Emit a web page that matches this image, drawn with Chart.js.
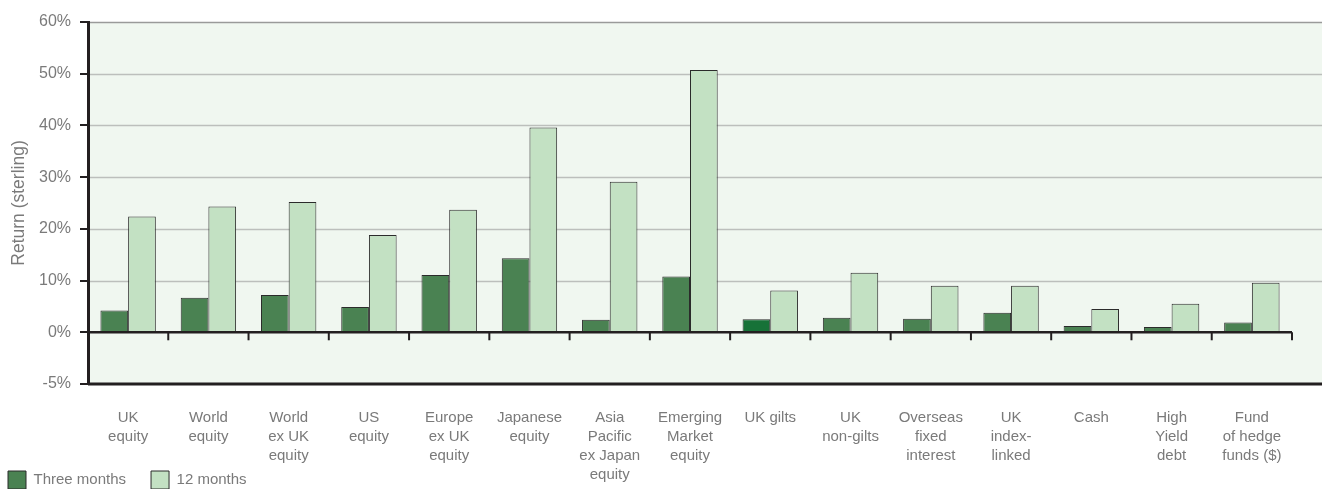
<!DOCTYPE html>
<html>
<head>
<meta charset="utf-8">
<script src="https://cdn.jsdelivr.net/npm/chart.js@4/dist/chart.umd.min.js"></script>
<style>
  html, body { margin: 0; padding: 0; background: #ffffff; }
  #wrap { width: 1322px; height: 489px; position: relative; }
</style>
</head>
<body>
<div id="wrap"><canvas id="c" width="1322" height="489"></canvas></div>
<script>
// ---- data ----
const categories = [
  ["UK", "equity"],
  ["World", "equity"],
  ["World", "ex UK", "equity"],
  ["US", "equity"],
  ["Europe", "ex UK", "equity"],
  ["Japanese", "equity"],
  ["Asia", "Pacific", "ex Japan", "equity"],
  ["Emerging", "Market", "equity"],
  ["UK gilts"],
  ["UK", "non-gilts"],
  ["Overseas", "fixed", "interest"],
  ["UK", "index-", "linked"],
  ["Cash"],
  ["High", "Yield", "debt"],
  ["Fund", "of hedge", "funds ($)"]
];
const seriesNames = ["Three months", "12 months"];
const threeMonths = [4.2, 6.7, 7.2, 4.9, 11.1, 14.3, 2.4, 10.8, 2.5, 2.8, 2.6, 3.8, 1.2, 1.0, 1.9];
const twelveMonths = [22.4, 24.3, 25.2, 18.8, 23.7, 39.6, 29.1, 50.7, 8.1, 11.5, 9.0, 9.0, 4.5, 5.5, 9.6];
const yTickValues = [-10, 0, 10, 20, 30, 40, 50, 60];
const yTickLabels = ["-5%", "0%", "10%", "20%", "30%", "40%", "50%", "60%"];
const highlightIndex = 8; // UK gilts drawn in a deeper green in the source

const FONT = "'Liberation Sans', Arial, sans-serif";
const TEXT = '#7a7a7a';

const decor = {
  id: 'decor',
  afterLayout(chart) {
    // nudge the legend so its first box sits near the left edge while keeping wide item spacing
    if (chart.legend) {
      chart.legend.left -= 17;
      chart.legend.top -= 15;
    }
  },
  beforeDraw(chart) {
    const {ctx, chartArea: a, scales: {y}} = chart;
    const W = chart.width;
    ctx.save();
    ctx.fillStyle = '#f0f7f0';
    ctx.fillRect(a.left, a.top, W - a.left, a.bottom - a.top);
    yTickValues.forEach(v => {
      if (v <= 0) return;
      const py = Math.round(y.getPixelForValue(v)) + 0.5;
      ctx.beginPath();
      ctx.strokeStyle = v === 60 ? '#9a9a9a' : '#bcbfbc';
      ctx.lineWidth = 1.5;
      ctx.moveTo(a.left, py);
      ctx.lineTo(W, py);
      ctx.stroke();
    });
    ctx.restore();
  },
  afterDatasetsDraw(chart) {
    const {ctx, chartArea: a, scales: {x, y}} = chart;
    const W = chart.width;
    ctx.save();
    ctx.strokeStyle = '#231f20';
    const y0 = y.getPixelForValue(0);
    ctx.lineWidth = 2.5;
    ctx.beginPath();
    ctx.moveTo(a.left, y0);
    ctx.lineTo(a.right, y0);
    ctx.stroke();
    ctx.lineWidth = 2;
    const n = categories.length;
    const step = (a.right - a.left) / n;
    for (let i = 1; i <= n; i++) {
      const bx = x.getPixelForValue(i - 1) + step / 2;
      ctx.beginPath();
      ctx.moveTo(bx, y0);
      ctx.lineTo(bx, y0 + 8);
      ctx.stroke();
    }
    ctx.lineWidth = 3;
    ctx.beginPath();
    ctx.moveTo(a.left, a.bottom);
    ctx.lineTo(W, a.bottom);
    ctx.stroke();
    ctx.restore();
  }
};

new Chart(document.getElementById('c'), {
  type: 'bar',
  data: {
    labels: categories,
    datasets: [
      {
        label: seriesNames[0],
        data: threeMonths,
        backgroundColor: (c) => c.dataIndex === highlightIndex ? '#177238' : '#4a8252',
        borderColor: '#2b2b2b',
        borderWidth: 1
      },
      {
        label: seriesNames[1],
        data: twelveMonths,
        backgroundColor: '#c3e1c3',
        borderColor: '#2b2b2b',
        borderWidth: 1
      }
    ]
  },
  options: {
    responsive: false,
    animation: false,
    devicePixelRatio: 1,
    layout: { padding: { top: 22, right: 30, left: 0, bottom: 0 } },
    datasets: { bar: { categoryPercentage: 0.69, barPercentage: 1.0 } },
    plugins: {
      tooltip: { enabled: false },
      legend: {
        position: 'bottom',
        align: 'start',
        maxHeight: 28,
        labels: {
          boxWidth: 18,
          boxHeight: 18,
          padding: 25,
          color: TEXT,
          font: { family: FONT, size: 15 },
          generateLabels(chart) {
            return chart.data.datasets.map((d, i) => ({
              text: d.label,
              fillStyle: i === 0 ? '#4a8252' : '#c3e1c3',
              strokeStyle: '#2b2b2b',
              lineWidth: 1,
              fontColor: TEXT,
              datasetIndex: i,
              hidden: false
            }));
          }
        }
      }
    },
    scales: {
      x: {
        offset: true,
        grid: { display: false, drawTicks: false },
        border: { display: false },
        afterFit(s) {
          s.height = 77;
          s._computeLabelArea = () => undefined; // let multi-line labels run below the axis box
        },
        ticks: {
          autoSkip: false,
          maxRotation: 0,
          minRotation: 0,
          padding: 24,
          color: TEXT,
          font: { family: FONT, size: 15, lineHeight: 1.27 }
        }
      },
      y: {
        min: -10,
        max: 60,
        afterFit(s) { s.width = 88; },
        afterBuildTicks(s) { s.ticks = yTickValues.map(v => ({ value: v })); },
        grid: {
          drawOnChartArea: false,
          drawTicks: true,
          tickLength: 8,
          color: '#231f20',
          lineWidth: 2
        },
        border: { display: true, color: '#231f20', width: 3 },
        ticks: {
          padding: 9,
          color: TEXT,
          font: { family: FONT, size: 16 },
          callback(v) {
            const i = yTickValues.indexOf(v);
            return i >= 0 ? yTickLabels[i] : '';
          }
        },
        title: {
          display: true,
          text: 'Return (sterling)',
          color: TEXT,
          font: { family: FONT, size: 17.5 },
          padding: { top: 8.5, bottom: 0 }
        }
      }
    }
  },
  plugins: [decor]
});
</script>
</body>
</html>
